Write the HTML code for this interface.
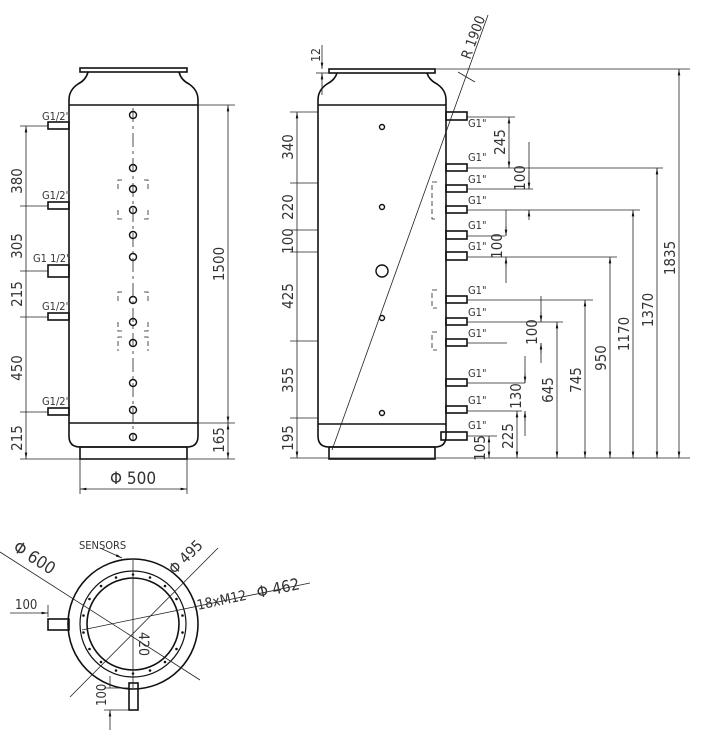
<!DOCTYPE html>
<html><head><meta charset="utf-8"><style>body{margin:0;background:#fff}svg{display:block}text{font-family:"Liberation Sans Narrow","DejaVu Sans Condensed","Liberation Sans",sans-serif;fill:#333}</style></head><body>
<svg width="702" height="750" viewBox="0 0 702 750" xmlns="http://www.w3.org/2000/svg">
<defs><marker id="a" viewBox="0 0 10 10" refX="10" refY="5" markerWidth="8" markerHeight="8" orient="auto-start-reverse"><path d="M0,3L10,5L0,7z" fill="#111"/></marker></defs>
<g stroke="#111" fill="none" stroke-width="1.6">
<rect x="80" y="68" width="107" height="4"/>
<path d="M88,72 Q86,80 78,84 Q69,90 69,100 L69,436 Q69,447 80,447 L187,447 Q198,447 198,436 L198,100 Q198,90 189,84 Q181,80 179,72"/>
<line x1="69" y1="105" x2="198" y2="105"/><line x1="69" y1="423" x2="198" y2="423"/>
<rect x="80" y="447" width="107" height="12"/>
<rect x="48" y="122" width="21" height="7"/><rect x="48" y="202" width="21" height="7"/><rect x="48" y="265" width="21" height="12"/><rect x="48" y="313" width="21" height="7"/><rect x="48" y="408" width="21" height="7"/>
<g stroke-width="1.4"><circle cx="133" cy="115" r="3.5"/><circle cx="133" cy="168" r="3.5"/><circle cx="133" cy="189" r="3.5"/><circle cx="133" cy="210" r="3.5"/><circle cx="133" cy="235" r="3.5"/><circle cx="133" cy="257" r="3.5"/><circle cx="133" cy="300" r="3.5"/><circle cx="133" cy="322" r="3.5"/><circle cx="133" cy="343" r="3.5"/><circle cx="133" cy="383" r="3.5"/><circle cx="133" cy="410" r="3.5"/><circle cx="133" cy="437" r="3.5"/></g>
<rect x="329" y="69" width="106" height="4"/>
<path d="M337,73 Q335,80 327,84 Q318,90 318,100 L318,436 Q318,447 329,447 L435,447 Q446,447 446,436 L446,100 Q446,90 437,84 Q429,80 427,73"/>
<line x1="318" y1="105" x2="446" y2="105"/><line x1="318" y1="424" x2="446" y2="424"/>
<rect x="329" y="447" width="106" height="12"/>
<g><rect x="446" y="112" width="21" height="8"/><rect x="446" y="164" width="21" height="7"/><rect x="446" y="185" width="21" height="7"/><rect x="446" y="206" width="21" height="7"/><rect x="446" y="231" width="21" height="8"/><rect x="446" y="252" width="21" height="8"/><rect x="446" y="296" width="21" height="7"/><rect x="446" y="318" width="21" height="7"/><rect x="446" y="339" width="21" height="7"/><rect x="446" y="379" width="21" height="7"/><rect x="446" y="406" width="21" height="7"/><rect x="441" y="432" width="26" height="8"/></g>
<g stroke-width="1.4"><circle cx="382" cy="127" r="2.5"/><circle cx="382" cy="207" r="2.5"/><circle cx="382" cy="271" r="6"/><circle cx="382" cy="318" r="2.5"/><circle cx="382" cy="413" r="2.5"/></g>
<circle cx="133" cy="624" r="65"/><circle cx="133" cy="624" r="53" stroke-width="1.2"/><circle cx="133" cy="624" r="46"/>
<rect x="48" y="619" width="21" height="11"/><rect x="129" y="683" width="9" height="27"/>
</g>
<g fill="#111">
<circle cx="133" cy="574.5" r="1.3"/><circle cx="150" cy="577.5" r="1.3"/><circle cx="165" cy="586" r="1.3"/><circle cx="176.5" cy="599" r="1.3"/><circle cx="182.5" cy="615.5" r="1.3"/><circle cx="182.5" cy="632.5" r="1.3"/><circle cx="176.5" cy="649" r="1.3"/><circle cx="165" cy="662" r="1.3"/><circle cx="150" cy="670.5" r="1.3"/><circle cx="133" cy="673.5" r="1.3"/><circle cx="116" cy="670.5" r="1.3"/><circle cx="101" cy="662" r="1.3"/><circle cx="89.5" cy="649" r="1.3"/><circle cx="83.5" cy="632.5" r="1.3"/><circle cx="83.5" cy="615.5" r="1.3"/><circle cx="89.5" cy="599" r="1.3"/><circle cx="101" cy="586" r="1.3"/><circle cx="116" cy="577.5" r="1.3"/>
</g>
<g stroke="#222" stroke-width="0.8" fill="none">
<line x1="133" y1="108" x2="133" y2="440" stroke-dasharray="14,4,3,4"/>
<g stroke-dasharray="5,3"><path d="M122,180h-4v12M144,180h4v12M122,219h-4v-12M144,219h4v-12M122,292h-4v12M144,292h4v12M122,331h-4v-10M144,331h4v-10M122,337h-4v14M144,337h4v14"/><path d="M437,182h-5v37h5M437,290h-5v18h5M437,332h-5v18h5"/></g>
<line x1="26" y1="126" x2="26" y2="459" marker-start="url(#a)" marker-end="url(#a)"/>
<path d="M20,126h28M20,206h28M20,271h28M20,317h28M20,412h28M20,459h215M198,105h37M198,423h37"/>
<line x1="228" y1="105" x2="228" y2="423" marker-start="url(#a)" marker-end="url(#a)"/>
<line x1="228" y1="423" x2="228" y2="459" marker-start="url(#a)" marker-end="url(#a)"/>
<path d="M80,459v35M187,459v35"/>
<line x1="80" y1="489" x2="187" y2="489" marker-start="url(#a)" marker-end="url(#a)"/>
<path d="M290,458h400M435,69h255M290,112h28M290,183h28M290,230h28M290,252h28M290,341h28M290,418h28"/>
<line x1="297" y1="112" x2="297" y2="458" marker-start="url(#a)" marker-end="url(#a)"/>
<path d="M467,117h48M467,168h196M467,189h66M467,210h173M467,236h38M467,257h150M467,300h126M467,322h96M467,343h40M467,383h58M467,411h55M467,436h30"/>
<line x1="679" y1="69" x2="679" y2="458" marker-start="url(#a)" marker-end="url(#a)"/>
<line x1="657" y1="168" x2="657" y2="458" marker-start="url(#a)" marker-end="url(#a)"/>
<line x1="633" y1="210" x2="633" y2="458" marker-start="url(#a)" marker-end="url(#a)"/>
<line x1="610" y1="257" x2="610" y2="458" marker-start="url(#a)" marker-end="url(#a)"/>
<line x1="585" y1="300" x2="585" y2="458" marker-start="url(#a)" marker-end="url(#a)"/>
<line x1="557" y1="322" x2="557" y2="458" marker-start="url(#a)" marker-end="url(#a)"/>
<line x1="517" y1="411" x2="517" y2="458" marker-start="url(#a)" marker-end="url(#a)"/>
<line x1="489" y1="436" x2="489" y2="458" marker-start="url(#a)" marker-end="url(#a)"/>
<line x1="509" y1="117" x2="509" y2="168" marker-start="url(#a)" marker-end="url(#a)"/>
<path d="M529,142v47M529,210v4M506,210v26M506,257v26M541,296v26M541,343v20M525,356v27M525,411v25"/>
<line x1="529" y1="189" x2="529" y2="171" marker-start="url(#a)"/><line x1="529" y1="210" x2="529" y2="220" marker-start="url(#a)"/>
<line x1="506" y1="236" x2="506" y2="226" marker-start="url(#a)"/><line x1="506" y1="257" x2="506" y2="267" marker-start="url(#a)"/>
<line x1="541" y1="322" x2="541" y2="312" marker-start="url(#a)"/><line x1="541" y1="343" x2="541" y2="353" marker-start="url(#a)"/>
<line x1="525" y1="383" x2="525" y2="373" marker-start="url(#a)"/><line x1="525" y1="411" x2="525" y2="421" marker-start="url(#a)"/>
<line x1="488" y1="15" x2="332" y2="450"/>
<path d="M458,72l17,10"/>
<line x1="322" y1="45" x2="322" y2="69" marker-end="url(#a)"/><line x1="322" y1="95" x2="322" y2="73" marker-end="url(#a)"/><path d="M316,73h13"/>
<path d="M0,552L200,680M70,697L218,548M82,630L310,583M133,560v128"/>
<line x1="10" y1="613" x2="48" y2="613" marker-end="url(#a)"/><path d="M48,605v12"/>
<line x1="110" y1="730" x2="110" y2="710" marker-end="url(#a)"/><path d="M104,710h25M104,688h25M110,688v-12"/>
<line x1="100" y1="548" x2="122" y2="558" marker-end="url(#a)"/>
</g>
<g font-size="11">
<text x="42" y="120">G1/2"</text><text x="42" y="199">G1/2"</text><text x="33" y="262">G1 1/2"</text><text x="42" y="310">G1/2"</text><text x="42" y="405">G1/2"</text>
<g fill="#555"><text x="468" y="127">G1"</text><text x="468" y="161">G1"</text><text x="468" y="183">G1"</text><text x="468" y="204">G1"</text><text x="468" y="229">G1"</text><text x="468" y="250">G1"</text><text x="468" y="294">G1"</text><text x="468" y="316">G1"</text><text x="468" y="337">G1"</text><text x="468" y="377">G1"</text><text x="468" y="404">G1"</text><text x="468" y="429">G1"</text></g>
</g>
<g font-size="15">
<text transform="translate(22,181) rotate(-90)" text-anchor="middle">380</text>
<text transform="translate(22,246) rotate(-90)" text-anchor="middle">305</text>
<text transform="translate(22,294) rotate(-90)" text-anchor="middle">215</text>
<text transform="translate(22,368) rotate(-90)" text-anchor="middle">450</text>
<text transform="translate(22,438) rotate(-90)" text-anchor="middle">215</text>
<text transform="translate(224,264) rotate(-90)" text-anchor="middle">1500</text>
<text transform="translate(224,440) rotate(-90)" text-anchor="middle">165</text>
<text x="110" y="484" font-size="17">Φ 500</text>
<text transform="translate(293,147) rotate(-90)" text-anchor="middle">340</text>
<text transform="translate(293,207) rotate(-90)" text-anchor="middle">220</text>
<text transform="translate(293,241) rotate(-90)" text-anchor="middle">100</text>
<text transform="translate(293,296) rotate(-90)" text-anchor="middle">425</text>
<text transform="translate(293,380) rotate(-90)" text-anchor="middle">355</text>
<text transform="translate(293,438) rotate(-90)" text-anchor="middle">195</text>
<text transform="translate(505,142) rotate(-90)" text-anchor="middle">245</text>
<text transform="translate(525,178) rotate(-90)" text-anchor="middle">100</text>
<text transform="translate(502,246) rotate(-90)" text-anchor="middle">100</text>
<text transform="translate(537,332) rotate(-90)" text-anchor="middle">100</text>
<text transform="translate(521,396) rotate(-90)" text-anchor="middle">130</text>
<text transform="translate(513,436) rotate(-90)" text-anchor="middle">225</text>
<text transform="translate(485,448) rotate(-90)" text-anchor="middle">105</text>
<text transform="translate(553,390) rotate(-90)" text-anchor="middle">645</text>
<text transform="translate(581,380) rotate(-90)" text-anchor="middle">745</text>
<text transform="translate(606,358) rotate(-90)" text-anchor="middle">950</text>
<text transform="translate(629,334) rotate(-90)" text-anchor="middle">1170</text>
<text transform="translate(653,310) rotate(-90)" text-anchor="middle">1370</text>
<text transform="translate(675,258) rotate(-90)" text-anchor="middle">1835</text>
<text transform="translate(320,55) rotate(-90)" text-anchor="middle" font-size="12">12</text>
<text transform="translate(470,60) rotate(-70)" font-size="14">R 1900</text>
<text transform="translate(12,550) rotate(33)" font-size="17">Φ 600</text>
<text transform="translate(175,575) rotate(-45)" font-size="15">Φ 495</text>
<text transform="translate(198,610) rotate(-12)" font-size="14">18xM12</text>
<text transform="translate(258,598) rotate(-12)" font-size="16">Φ 462</text>
<text transform="translate(139,632) rotate(90)" font-size="14">420</text>
<text x="15" y="609" font-size="13">100</text>
<text transform="translate(106,706) rotate(-90)" font-size="13">100</text>
<text x="79" y="549" font-size="11" fill="#777">SENSORS</text>
</g>
</svg>
</body></html>
